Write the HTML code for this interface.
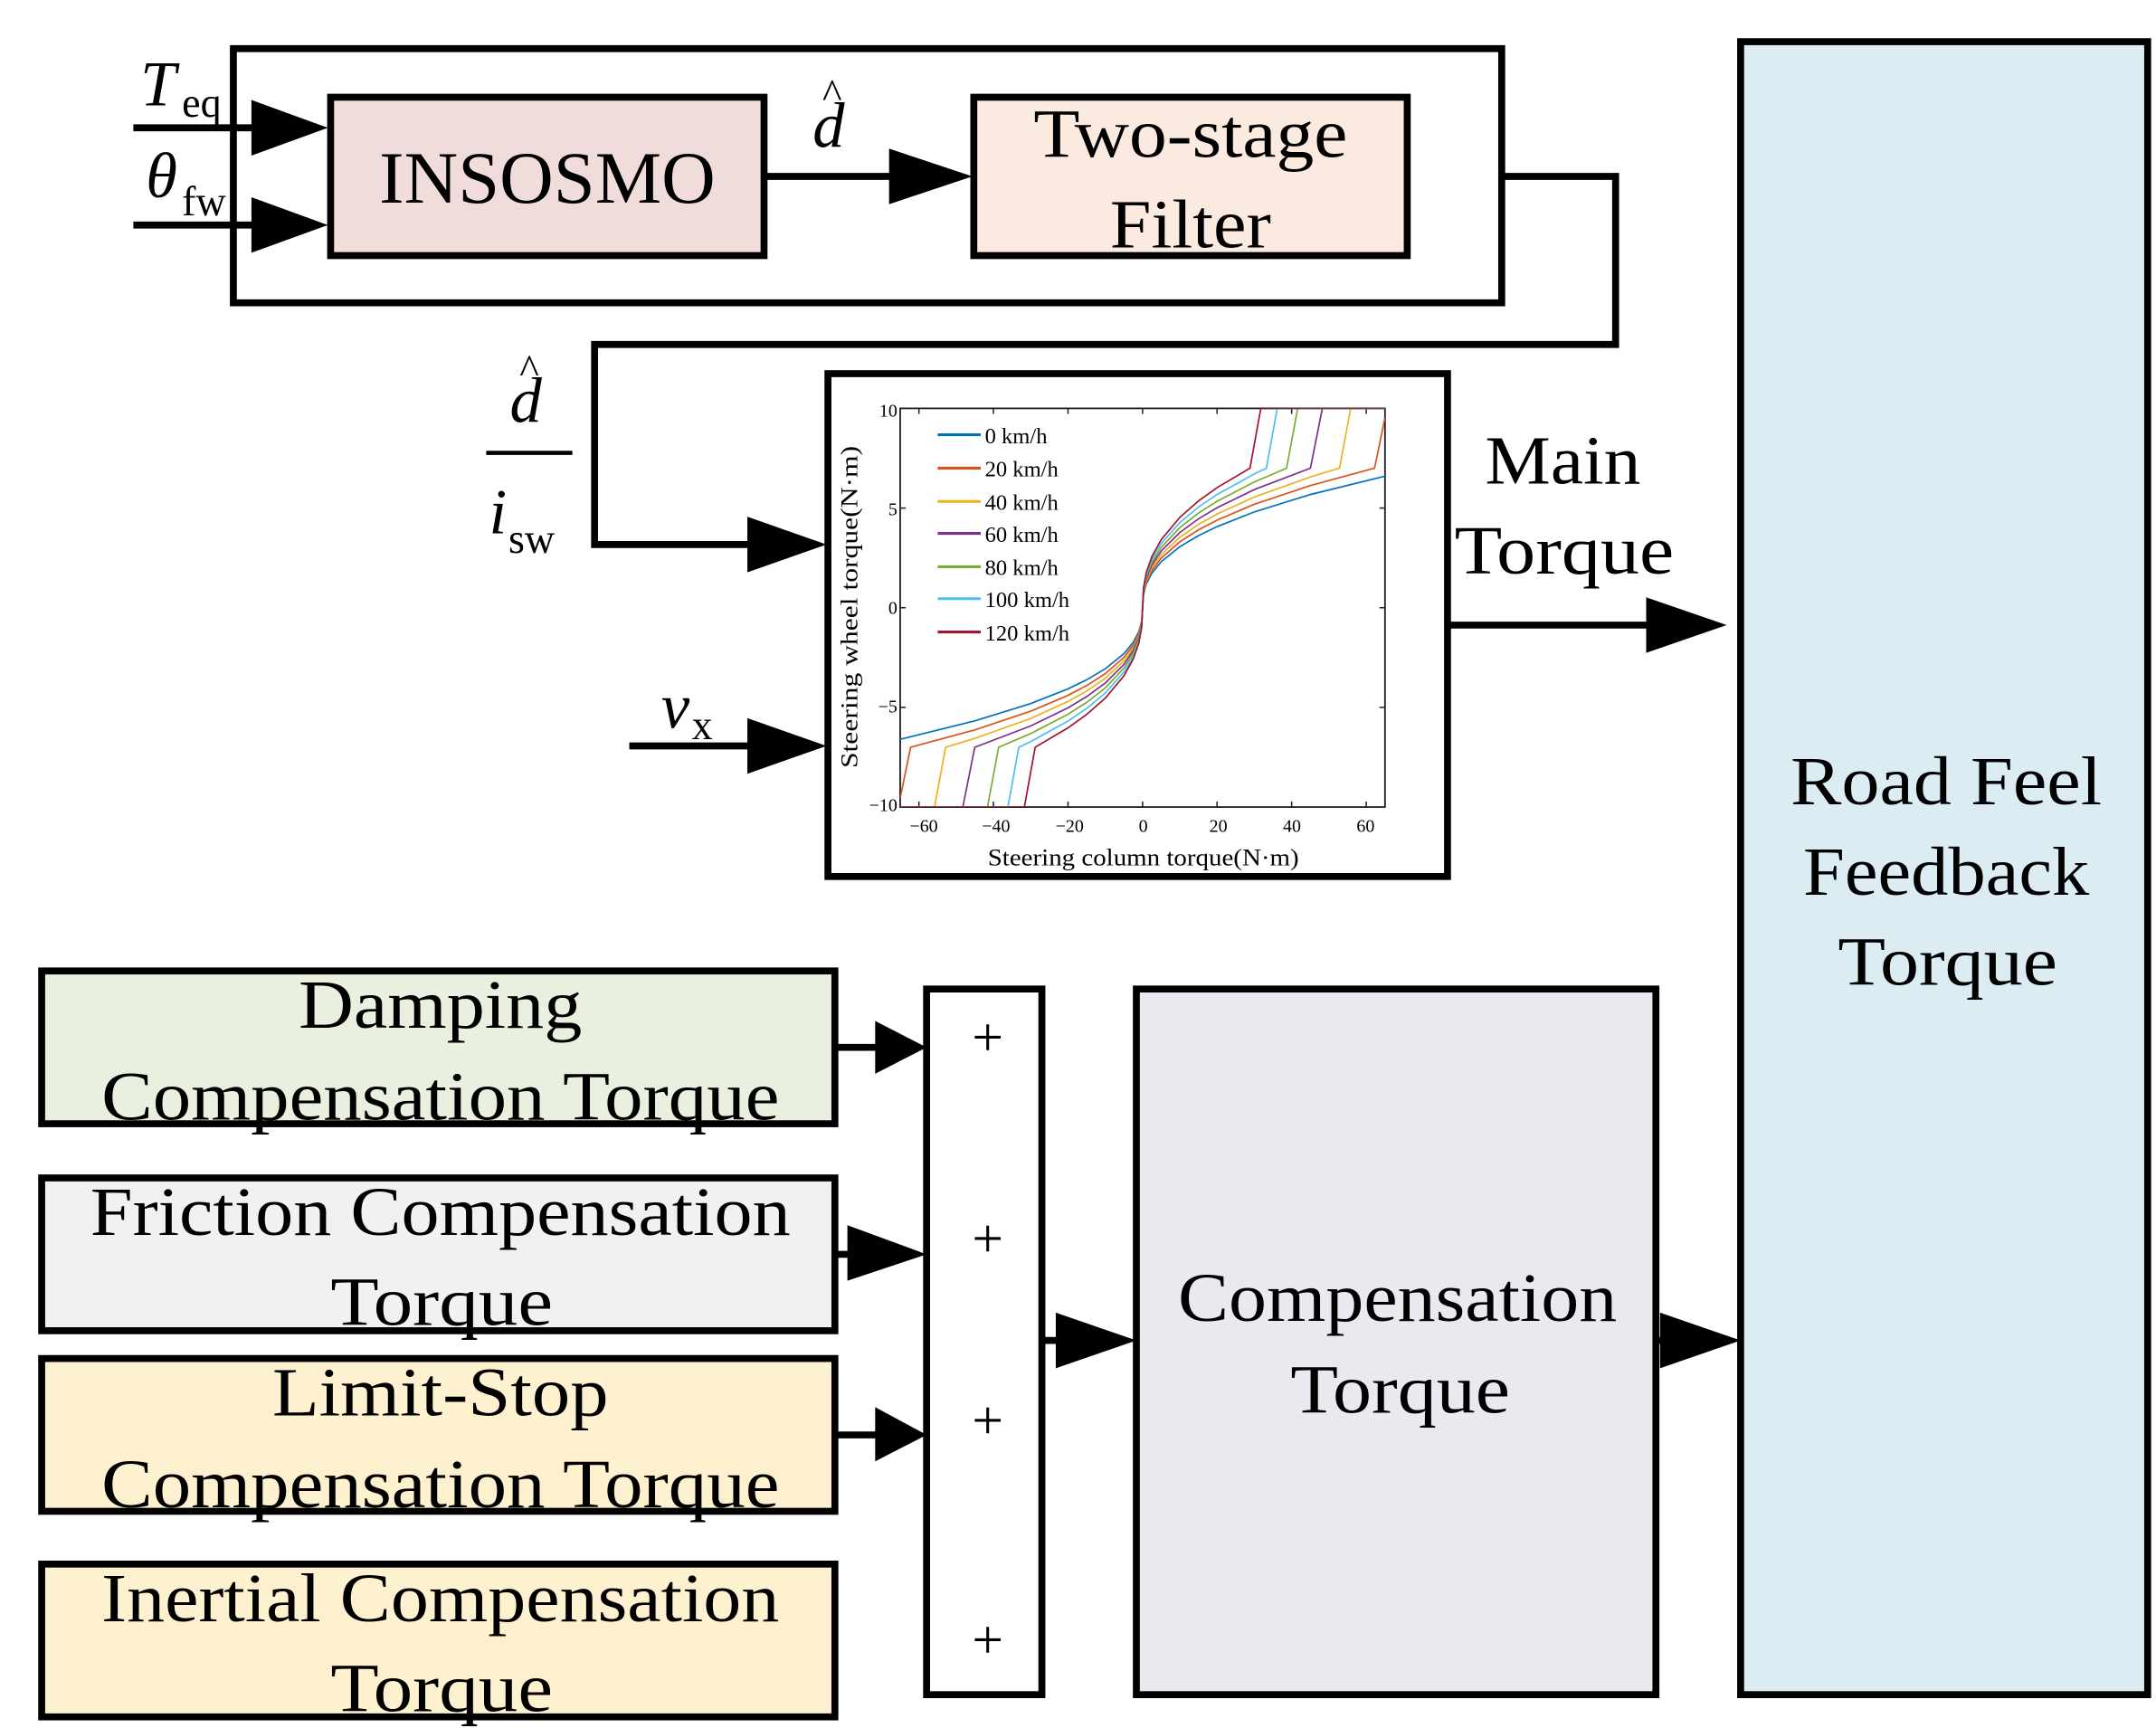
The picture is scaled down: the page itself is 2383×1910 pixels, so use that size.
<!DOCTYPE html>
<html><head><meta charset="utf-8"><style>
html,body{margin:0;padding:0;background:#fff;}
svg{display:block;}
text{font-family:"Liberation Serif","DejaVu Serif",serif;fill:#000;}
</style></head><body>
<svg width="2383" height="1910" viewBox="0 0 1552 1244" preserveAspectRatio="none" xmlns="http://www.w3.org/2000/svg">
<defs><clipPath id="pc"><rect x="648" y="294" width="349" height="287"/></clipPath></defs>
<rect x="0" y="0" width="1552" height="1244" fill="#fff"/>
<g stroke="#000" stroke-width="5" fill="none" stroke-linejoin="miter">
<rect x="168" y="35" width="913" height="183"/>
<rect x="238" y="70" width="312" height="114" fill="#efdcdb"/>
<rect x="701" y="70" width="312" height="114" fill="#fbeadf"/>
<polyline points="1081,127 1163,127 1163,248 428,248 428,392 540,392"/>
<line x1="96" y1="92" x2="185" y2="92"/>
<line x1="96" y1="162" x2="185" y2="162"/>
<line x1="550" y1="127" x2="645" y2="127"/>
<line x1="453" y1="537" x2="540" y2="537"/>
<line x1="350" y1="326" x2="412" y2="326" stroke-width="3"/>
<rect x="596" y="269" width="446" height="362" fill="#fff"/>
<line x1="1042" y1="450" x2="1188" y2="450"/>
<rect x="1253" y="30" width="293" height="1190" fill="#dbedf3"/>
<rect x="30" y="699" width="571" height="110" fill="#e9f0df"/>
<rect x="30" y="848" width="571" height="110" fill="#f1f1f1"/>
<rect x="30" y="978" width="571" height="110" fill="#fdf1cf"/>
<rect x="30" y="1126" width="571" height="110" fill="#fdf1cf"/>
<rect x="667" y="712" width="83" height="508" fill="#fff"/>
<rect x="818" y="712" width="374" height="508" fill="#ebe8f0"/>
<line x1="601" y1="754" x2="635" y2="754"/>
<line x1="601" y1="903" x2="612" y2="903"/>
<line x1="601" y1="1033" x2="635" y2="1033"/>
<line x1="750" y1="965" x2="765" y2="965"/>
<line x1="1192" y1="965" x2="1198" y2="965"/>
</g>
<g fill="#000">
<polygon points="181,72 236,92 181,112"/>
<polygon points="181,142 236,162 181,182"/>
<polygon points="640,107 700,127 640,147"/>
<polygon points="538,372 595,392 538,412"/>
<polygon points="538,517 595,537 538,557"/>
<polygon points="1185,430 1243,450 1185,470"/>
<polygon points="630,735 667,754 630,773"/>
<polygon points="610,882 667,903 610,922"/>
<polygon points="630,1013 667,1033 630,1052"/>
<polygon points="760,945 818,965 760,985"/>
<polygon points="1195,945 1253,965 1195,985"/>
</g>
<text x="101" y="76" font-size="46" font-style="italic">T</text>
<text x="131" y="84" font-size="30">eq</text>
<text x="105" y="142" font-size="46" font-style="italic">θ</text>
<text x="131" y="155" font-size="30">fw</text>
<text x="394" y="146" font-size="53" text-anchor="middle" textLength="242" lengthAdjust="spacingAndGlyphs">INSOSMO</text>
<text x="585" y="106" font-size="46" font-style="italic">d</text>
<text x="592" y="78" font-size="30">^</text>
<text x="857" y="113" font-size="50" text-anchor="middle" textLength="226" lengthAdjust="spacingAndGlyphs">Two-stage</text>
<text x="857" y="178" font-size="50" text-anchor="middle" textLength="116" lengthAdjust="spacingAndGlyphs">Filter</text>
<text x="367" y="304" font-size="46" font-style="italic">d</text>
<text x="374" y="276" font-size="30">^</text>
<text x="352" y="384" font-size="46" font-style="italic">i</text>
<text x="366" y="398" font-size="30">sw</text>
<text x="476" y="524" font-size="46" font-style="italic">v</text>
<text x="498" y="532" font-size="30">x</text>
<text x="1125" y="348" font-size="50" text-anchor="middle" textLength="112" lengthAdjust="spacingAndGlyphs">Main</text>
<text x="1126" y="413" font-size="50" text-anchor="middle" textLength="158" lengthAdjust="spacingAndGlyphs">Torque</text>
<text x="1401" y="579" font-size="50" text-anchor="middle" textLength="224" lengthAdjust="spacingAndGlyphs">Road Feel</text>
<text x="1401" y="644" font-size="50" text-anchor="middle" textLength="206" lengthAdjust="spacingAndGlyphs">Feedback</text>
<text x="1402" y="709" font-size="50" text-anchor="middle" textLength="158" lengthAdjust="spacingAndGlyphs">Torque</text>
<text x="317" y="740" font-size="50" text-anchor="middle" textLength="204" lengthAdjust="spacingAndGlyphs">Damping</text>
<text x="317" y="806" font-size="50" text-anchor="middle" textLength="488" lengthAdjust="spacingAndGlyphs">Compensation Torque</text>
<text x="317" y="889" font-size="50" text-anchor="middle" textLength="504" lengthAdjust="spacingAndGlyphs">Friction Compensation</text>
<text x="318" y="954" font-size="50" text-anchor="middle" textLength="160" lengthAdjust="spacingAndGlyphs">Torque</text>
<text x="317" y="1019" font-size="50" text-anchor="middle" textLength="242" lengthAdjust="spacingAndGlyphs">Limit-Stop</text>
<text x="317" y="1085" font-size="50" text-anchor="middle" textLength="488" lengthAdjust="spacingAndGlyphs">Compensation Torque</text>
<text x="317" y="1167" font-size="50" text-anchor="middle" textLength="488" lengthAdjust="spacingAndGlyphs">Inertial Compensation</text>
<text x="318" y="1232" font-size="50" text-anchor="middle" textLength="160" lengthAdjust="spacingAndGlyphs">Torque</text>
<text x="1006" y="951" font-size="50" text-anchor="middle" textLength="316" lengthAdjust="spacingAndGlyphs">Compensation</text>
<text x="1008" y="1017" font-size="50" text-anchor="middle" textLength="158" lengthAdjust="spacingAndGlyphs">Torque</text>
<g font-size="40" text-anchor="middle">
<text x="711" y="760">+</text>
<text x="711" y="905">+</text>
<text x="711" y="1036">+</text>
<text x="711" y="1194">+</text>
</g>
<g id="plot">
<rect x="648" y="294" width="349" height="287" fill="none" stroke="#222" stroke-width="1.2"/>
<g stroke="#222" stroke-width="1">
<line x1="661.5" y1="581" x2="661.5" y2="577"/><line x1="715.1" y1="581" x2="715.1" y2="577"/><line x1="768.8" y1="581" x2="768.8" y2="577"/><line x1="822.5" y1="581" x2="822.5" y2="577"/><line x1="876.1" y1="581" x2="876.1" y2="577"/><line x1="929.8" y1="581" x2="929.8" y2="577"/><line x1="983.5" y1="581" x2="983.5" y2="577"/>
<line x1="661.5" y1="294" x2="661.5" y2="298"/><line x1="715.1" y1="294" x2="715.1" y2="298"/><line x1="768.8" y1="294" x2="768.8" y2="298"/><line x1="822.5" y1="294" x2="822.5" y2="298"/><line x1="876.1" y1="294" x2="876.1" y2="298"/><line x1="929.8" y1="294" x2="929.8" y2="298"/><line x1="983.5" y1="294" x2="983.5" y2="298"/>
<line x1="648" y1="365.75" x2="652" y2="365.75"/><line x1="648" y1="437.5" x2="652" y2="437.5"/><line x1="648" y1="509.25" x2="652" y2="509.25"/>
<line x1="997" y1="365.75" x2="993" y2="365.75"/><line x1="997" y1="437.5" x2="993" y2="437.5"/><line x1="997" y1="509.25" x2="993" y2="509.25"/>
</g>
<g font-size="13" text-anchor="middle" fill="#222">
<text x="665" y="599">−60</text><text x="717" y="599">−40</text><text x="770" y="599">−20</text><text x="823" y="599">0</text><text x="877" y="599">20</text><text x="930" y="599">40</text><text x="983" y="599">60</text>
</g>
<g font-size="13" text-anchor="end" fill="#222">
<text x="646" y="300">10</text><text x="646" y="371">5</text><text x="646" y="442">0</text><text x="646" y="513">−5</text><text x="646" y="584">−10</text>
</g>
<text x="823" y="623" font-size="17" text-anchor="middle" textLength="224" lengthAdjust="spacingAndGlyphs">Steering column torque(N·m)</text>
<text transform="translate(617,437) rotate(-90)" font-size="17" text-anchor="middle" textLength="232" lengthAdjust="spacingAndGlyphs">Steering wheel torque(N·m)</text>
<g clip-path="url(#pc)">
<g transform="matrix(2.6846 0 0 -14.35 822.5 437.5)" fill="none" stroke-width="1.7">
<path vector-effect="non-scaling-stroke" stroke="#0072bd" d="M-65,-6.6 L-45,-5.678 -30,-4.809 -20,-4.071 -15,-3.618 -10,-3.063 -5,-2.307 -2.5,-1.736 -1,-1.192 -0.25,-0.676 0,0 0.25,0.676 1,1.192 2.5,1.736 5,2.307 10,3.063 15,3.618 20,4.071 30,4.809 45,5.678 65,6.6"/>
<path vector-effect="non-scaling-stroke" stroke="#d95319" d="M-65,-9.545 L-62.2,-7 -45,-6.130 -30,-5.192 -20,-4.395 -15,-3.906 -10,-3.308 -5,-2.490 -2.5,-1.874 -1,-1.287 -0.25,-0.73 0,0 0.25,0.73 1,1.287 2.5,1.874 5,2.49 10,3.308 15,3.906 20,4.395 30,5.192 45,6.13 62.2,7 65,9.545"/>
<path vector-effect="non-scaling-stroke" stroke="#edb120" d="M-65,-10 L-55.8,-10 -52.8,-7 -45,-6.559 -30,-5.555 -20,-4.702 -15,-4.179 -10,-3.539 -5,-2.664 -2.5,-2.005 -1,-1.377 -0.25,-0.781 0,0 0.25,0.781 1,1.377 2.5,2.005 5,2.664 10,3.539 15,4.179 20,4.702 30,5.555 45,6.559 52.8,7 55.8,10 65,10"/>
<path vector-effect="non-scaling-stroke" stroke="#7e2f8e" d="M-65,-10 L-48.2,-10 -45,-7 -30,-5.93 -20,-5.02 -15,-4.461 -10,-3.778 -5,-2.844 -2.5,-2.14 -1,-1.47 -0.25,-0.833 0,0 0.25,0.833 1,1.47 2.5,2.14 5,2.844 10,3.778 15,4.461 20,5.02 30,5.93 45,7 48.2,10 65,10"/>
<path vector-effect="non-scaling-stroke" stroke="#77ac30" d="M-65,-10 L-41.6,-10 -38.6,-7 -30,-6.313 -20,-5.344 -15,-4.75 -10,-4.022 -5,-3.028 -2.5,-2.279 -1,-1.565 -0.25,-0.887 0,0 0.25,0.887 1,1.565 2.5,2.279 5,3.028 10,4.022 15,4.75 20,5.344 30,6.313 38.6,7 41.6,10 65,10"/>
<path vector-effect="non-scaling-stroke" stroke="#4dbeee" d="M-65,-10 L-36.1,-10 -33.2,-7 -30,-6.717 -20,-5.686 -15,-5.053 -10,-4.279 -5,-3.222 -2.5,-2.424 -1,-1.665 -0.25,-0.944 0,0 0.25,0.944 1,1.665 2.5,2.424 5,3.222 10,4.279 15,5.053 20,5.686 30,6.717 33.2,7 36.1,10 65,10"/>
<path vector-effect="non-scaling-stroke" stroke="#a2142f" d="M-65,-10 L-31.7,-10 -28.8,-7 -20,-6.027 -15,-5.357 -10,-4.536 -5,-3.415 -2.5,-2.57 -1,-1.765 -0.25,-1.001 0,0 0.25,1.001 1,1.765 2.5,2.57 5,3.415 10,4.536 15,5.357 20,6.027 28.8,7 31.7,10 65,10"/>
</g>
</g>
<g stroke-width="2">
<line x1="675" y1="313" x2="706" y2="313" stroke="#0072bd"/>
<line x1="675" y1="337" x2="706" y2="337" stroke="#d95319"/>
<line x1="675" y1="361" x2="706" y2="361" stroke="#edb120"/>
<line x1="675" y1="384" x2="706" y2="384" stroke="#7e2f8e"/>
<line x1="675" y1="408" x2="706" y2="408" stroke="#77ac30"/>
<line x1="675" y1="431" x2="706" y2="431" stroke="#4dbeee"/>
<line x1="675" y1="455" x2="706" y2="455" stroke="#a2142f"/>
</g>
<g font-size="16">
<text x="709" y="319">0 km/h</text>
<text x="709" y="343">20 km/h</text>
<text x="709" y="367">40 km/h</text>
<text x="709" y="390">60 km/h</text>
<text x="709" y="414">80 km/h</text>
<text x="709" y="437">100 km/h</text>
<text x="709" y="461">120 km/h</text>
</g>
</g>
</svg>
</body></html>
